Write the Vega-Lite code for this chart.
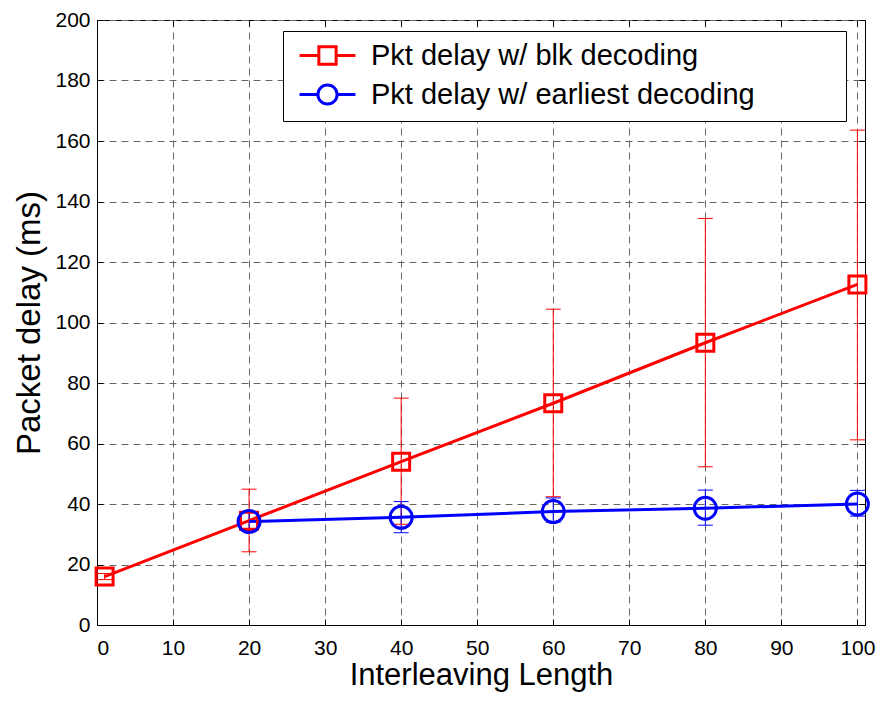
{
  "$schema": "https://vega.github.io/schema/vega-lite/v6.json",
  "width": 768,
  "height": 605,
  "autosize": {"type": "none"},
  "padding": {"left": 97, "top": 20, "right": 29, "bottom": 76},
  "background": "white",
  "config": {
    "font": "Liberation Sans",
    "view": {"stroke": "black", "strokeWidth": 1},
    "axis": {
      "labelFont": "Liberation Sans",
      "titleFont": "Liberation Sans",
      "labelColor": "black",
      "titleColor": "black",
      "domainColor": "black",
      "tickColor": "black",
      "gridColor": "#666666",
      "gridDash": [7, 5],
      "gridOpacity": 1,
      "gridWidth": 1,
      "titleFontWeight": "normal",
      "labelFontSize": 21
    }
  },
  "data": {
    "values": [
      {"series": "Pkt delay w/ blk decoding", "x": 1, "y": 16, "lo": 15, "hi": 17},
      {"series": "Pkt delay w/ blk decoding", "x": 20, "y": 34.5, "lo": 24.2, "hi": 44.9},
      {"series": "Pkt delay w/ blk decoding", "x": 40, "y": 54, "lo": 33.3, "hi": 75},
      {"series": "Pkt delay w/ blk decoding", "x": 60, "y": 73.3, "lo": 42.4, "hi": 104.4},
      {"series": "Pkt delay w/ blk decoding", "x": 80, "y": 93.3, "lo": 52.3, "hi": 134.4},
      {"series": "Pkt delay w/ blk decoding", "x": 100, "y": 112.6, "lo": 61.2, "hi": 163.6},
      {"series": "Pkt delay w/ earliest decoding", "x": 20, "y": 34.2, "lo": 31, "hi": 37.5},
      {"series": "Pkt delay w/ earliest decoding", "x": 40, "y": 35.6, "lo": 30.5, "hi": 40.8},
      {"series": "Pkt delay w/ earliest decoding", "x": 60, "y": 37.5, "lo": 34, "hi": 42},
      {"series": "Pkt delay w/ earliest decoding", "x": 80, "y": 38.6, "lo": 33, "hi": 44.6},
      {"series": "Pkt delay w/ earliest decoding", "x": 100, "y": 40, "lo": 36, "hi": 44.5}
    ]
  },
  "layer": [
    {
      "mark": {"type": "rule", "strokeWidth": 1},
      "encoding": {
        "x": {
          "field": "x", "type": "quantitative",
          "scale": {"domain": [0, 101], "nice": false, "zero": false},
          "axis": {
            "orient": "bottom", "values": [0,10,20,30,40,50,60,70,80,90,100],
            "title": "Interleaving Length", "titleFontSize": 31, "titlePadding": 2,
            "grid": true, "tickSize": -6, "labelPadding": 18, "domainWidth": 1
          }
        },
        "y": {
          "field": "lo", "type": "quantitative",
          "scale": {"domain": [0, 200], "nice": false},
          "axis": {
            "orient": "left", "values": [0,20,40,60,80,100,120,140,160,180,200],
            "title": "Packet delay (ms)", "titleFontSize": 33, "titlePadding": 8,
            "grid": true, "tickSize": -6, "labelPadding": 13, "domainWidth": 1
          }
        },
        "y2": {"field": "hi"},
        "color": {
          "field": "series", "type": "nominal",
          "scale": {"domain": ["Pkt delay w/ blk decoding", "Pkt delay w/ earliest decoding"], "range": ["#ff0000", "#0000ff"]},
          "legend": {
            "orient": "none", "legendX": 186, "legendY": 11, "title": null,
            "strokeColor": "black", "fillColor": "white", "padding": 10,
            "labelFont": "Liberation Sans", "labelFontSize": 29, "labelColor": "black", "labelLimit": 0,
            "symbolOffset": 20, "labelOffset": 29, "rowPadding": 7,
            "symbolSize": 576, "symbolStrokeWidth": 3,
            "encode": {
              "symbols": {
                "update": {
                  "shape": {"signal": "datum.value === 'Pkt delay w/ blk decoding' ? 'M-2.33,0H-0.72M0.72,0H2.33M-0.72,-0.72H0.72V0.72H-0.72Z' : 'M-2.33,0H-0.8M0.8,0H2.33M0.8,0A0.8,0.8,0,1,1,-0.8,0A0.8,0.8,0,1,1,0.8,0Z'"},
                  "size": {"value": 576},
                  "strokeWidth": {"value": 3},
                  "fill": {"value": "transparent"},
                  "opacity": {"value": 1}
                }
              },
              "labels": {
                "update": {
                  "text": {"signal": "datum.label + '\u00a0\u00a0\u00a0\u00a0\u00a0\u00a0\u00a0\u00a0\u00a0\u00a0\u200b'"}
                }
              }
            }
          }
        }
      }
    },
    {
      "mark": {"type": "point", "shape": "stroke", "filled": false, "size": 225, "strokeWidth": 1, "opacity": 1},
      "encoding": {
        "x": {"field": "x", "type": "quantitative", "axis": null},
        "y": {"field": "lo", "type": "quantitative", "axis": null},
        "color": {"field": "series", "type": "nominal"}
      }
    },
    {
      "mark": {"type": "point", "shape": "stroke", "filled": false, "size": 225, "strokeWidth": 1, "opacity": 1},
      "encoding": {
        "x": {"field": "x", "type": "quantitative", "axis": null},
        "y": {"field": "hi", "type": "quantitative", "axis": null},
        "color": {"field": "series", "type": "nominal"}
      }
    },
    {
      "mark": {"type": "line", "strokeWidth": 3},
      "encoding": {
        "x": {"field": "x", "type": "quantitative", "axis": null},
        "y": {"field": "y", "type": "quantitative", "axis": null},
        "color": {"field": "series", "type": "nominal"}
      }
    },
    {
      "transform": [{"filter": "datum.series === 'Pkt delay w/ blk decoding'"}],
      "mark": {"type": "point", "shape": "square", "filled": false, "size": 289, "strokeWidth": 3, "opacity": 1},
      "encoding": {
        "x": {
          "field": "x", "type": "quantitative",
          "axis": {"orient": "top", "labels": false, "grid": false, "domain": false, "title": null, "tickSize": -6, "values": [0,10,20,30,40,50,60,70,80,90,100]}
        },
        "y": {
          "field": "y", "type": "quantitative",
          "axis": {"orient": "right", "labels": false, "grid": false, "domain": false, "title": null, "tickSize": -6, "values": [0,20,40,60,80,100,120,140,160,180,200]}
        },
        "color": {"field": "series", "type": "nominal"}
      }
    },
    {
      "transform": [{"filter": "datum.series === 'Pkt delay w/ earliest decoding'"}],
      "mark": {"type": "point", "shape": "circle", "filled": false, "size": 484, "strokeWidth": 3, "opacity": 1},
      "encoding": {
        "x": {"field": "x", "type": "quantitative", "axis": null},
        "y": {"field": "y", "type": "quantitative", "axis": null},
        "color": {"field": "series", "type": "nominal"}
      }
    }
  ],
  "resolve": {"axis": {"x": "independent", "y": "independent"}}
}
